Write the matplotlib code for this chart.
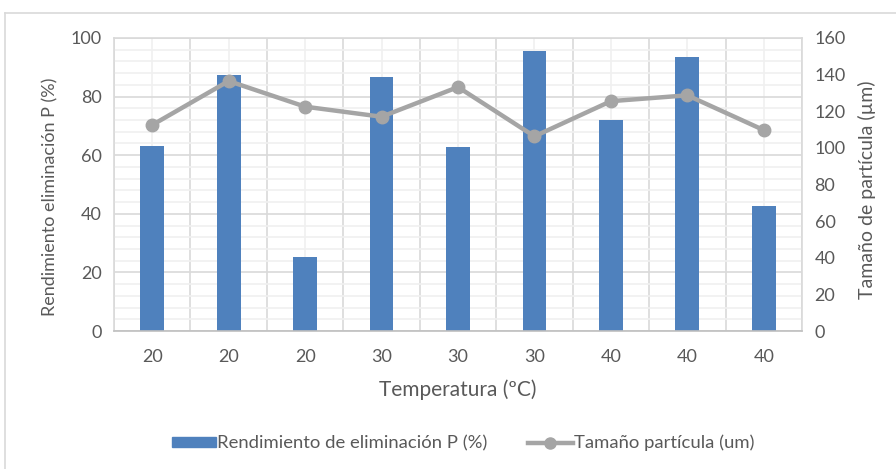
import matplotlib
matplotlib.use("Agg")
import matplotlib.pyplot as plt
from matplotlib.lines import Line2D
from matplotlib.patches import Patch
from matplotlib.ticker import MultipleLocator
import numpy as np

# Data
temperaturas = ["20", "20", "20", "30", "30", "30", "40", "40", "40"]
rendimiento_p = [63.0, 87.5, 25.2, 86.8, 62.7, 95.5, 72.0, 93.4, 42.7]
tamano_particula = [112.5, 136.5, 122.5, 117.0, 133.2, 106.3, 125.5, 128.7, 109.7]

plt.rcParams["font.family"] = ["Lato", "DejaVu Sans"]
TXT = "#595959"
GRID_MAJOR = "#d9d9d9"
GRID_MINOR = "#f0f0f0"
BAR = "#4f81bd"
LINE = "#a5a5a5"

W, H = 896, 469
fig = plt.figure(figsize=(W / 100, H / 100), dpi=100)

x = np.arange(len(temperaturas))
ax = fig.add_axes([114 / W, 1 - 331 / H, 688 / W, (331 - 38) / H])
ax.set_xlim(-0.5, len(x) - 0.5)
ax.set_ylim(0, 100)

# Grid: category boundaries / major y strong, category centres / minor y faint
ax.set_xticks(x)
ax.set_xticklabels(temperaturas)
ax.xaxis.set_minor_locator(MultipleLocator(1, offset=0.5))
ax.yaxis.set_major_locator(MultipleLocator(20))
ax.yaxis.set_minor_locator(MultipleLocator(4))
ax.grid(which="major", axis="x", color=GRID_MINOR, lw=1.2)
ax.grid(which="minor", axis="x", color=GRID_MAJOR, lw=1.2)
ax.grid(which="major", axis="y", color=GRID_MAJOR, lw=1.2)
ax.grid(which="minor", axis="y", color=GRID_MINOR, lw=1.2)
ax.set_axisbelow(True)

ax.bar(x, rendimiento_p, width=0.31, color=BAR, zorder=2)

for s in ax.spines.values():
    s.set_color(GRID_MAJOR)
    s.set_linewidth(1.2)
ax.spines["bottom"].set_color("#bfbfbf")
ax.tick_params(which="both", length=0, colors=TXT, labelsize=13)
ax.tick_params(axis="x", pad=13)
ax.tick_params(axis="y", pad=9)
ax.set_ylabel("Rendimiento eliminación P (%)", color=TXT, fontsize=13)
ax.yaxis.set_label_coords(-0.081, 0.458)
ax.set_xlabel("Temperatura (ºC)", color=TXT, fontsize=15, labelpad=10)

ax2 = ax.twinx()
ax2.set_ylim(0, 160)
ax2.yaxis.set_major_locator(MultipleLocator(20))
ax2.plot(x, tamano_particula, color=LINE, lw=3.2, marker="o", ms=9, zorder=3)
for s in ax2.spines.values():
    s.set_visible(False)
ax2.tick_params(length=0, colors=TXT, labelsize=13, pad=9)
ax2.set_ylabel("Tamaño de partícula (µm)", color=TXT, fontsize=14)
ax2.yaxis.set_label_coords(1.082, 0.481)

handles = [
    Patch(facecolor=BAR, edgecolor=BAR),
    Line2D([], [], color=LINE, lw=3.2, marker="o", ms=8),
]
fig.legend(handles, ["Rendimiento de eliminación P (%)", "Tamaño partícula (um)"],
           loc="center", bbox_to_anchor=(463 / W, 1 - 443 / H), ncol=2,
           frameon=False, fontsize=13.3, labelcolor=TXT, handlelength=2.4,
           handleheight=0.45, handletextpad=0.05, columnspacing=2.2)

# Chart frame
fig.add_artist(Line2D([5 / W, 5 / W], [0, 1 - 13 / H], color=GRID_MAJOR, lw=1.2,
                      transform=fig.transFigure))
fig.add_artist(Line2D([5 / W, 1], [1 - 13 / H, 1 - 13 / H], color=GRID_MAJOR, lw=1.2,
                      transform=fig.transFigure))

fig.savefig("out.png", dpi=100)
